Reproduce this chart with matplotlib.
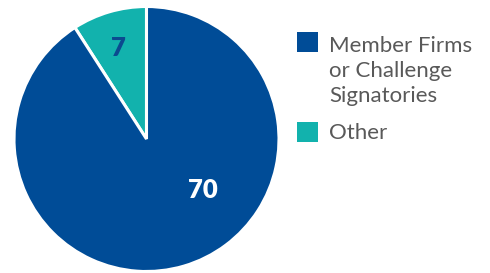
import matplotlib.pyplot as plt
from matplotlib.patches import Rectangle

# slice values, drawn counterclockwise from the top
labels = ['Other', 'Member Firms\nor Challenge\nSignatories']
values = [7, 70]
colors = ['#12b2ad', '#004c97']
label_colors = ['#0b4a8f', 'white']

plt.rcParams['font.family'] = ['Lato', 'DejaVu Sans']

fig = plt.figure(figsize=(4.9, 2.73), dpi=100)
W, H = 490, 273
ax = fig.add_axes([14 / W, 1.5 / H, 265 / W, 265 / H])

wedges, _ = ax.pie(values, colors=colors, startangle=90, counterclock=True,
                   wedgeprops=dict(edgecolor='white', linewidth=2.2))
ax.set_xlim(-1, 1)
ax.set_ylim(-1, 1)
ax.set_aspect('equal')

# number labels inside slices
label_pos = [(-0.215, 0.687), (0.426, -0.385)]
for (x, y), v, c in zip(label_pos, values, label_colors):
    ax.text(x, y, str(v), ha='center', va='center', fontsize=18.5,
            fontweight='heavy', color=c)

# legend, blue entry first (text anchored at the baseline of its last line)
square_y = [42, 131.7]
text_y = [102, 139.3]
for i, idx in enumerate([1, 0]):
    fig.patches.append(Rectangle((297 / W, 1 - (square_y[i] + 10) / H), 21 / W, 20 / H,
                                 transform=fig.transFigure,
                                 facecolor=colors[idx], edgecolor='none'))
    fig.text(329 / W, 1 - text_y[i] / H, labels[idx], ha='left', va='baseline',
             fontsize=16, color='#595959', linespacing=1.30)

plt.savefig('out.png', dpi=100)
